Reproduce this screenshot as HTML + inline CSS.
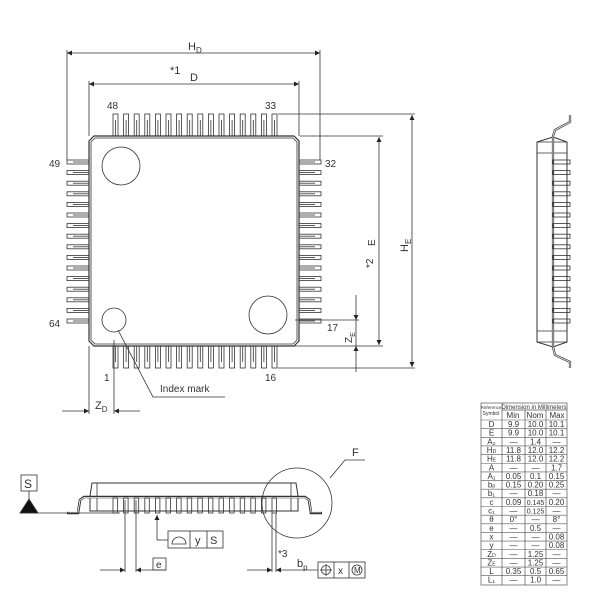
<!DOCTYPE html>
<html><head><meta charset="utf-8"><style>
html,body{margin:0;padding:0;background:#fff;width:600px;height:600px;overflow:hidden}
svg{display:block}
text{font-family:"Liberation Sans",sans-serif;fill:#333}
</style></head><body>
<svg id="s" width="600" height="600" viewBox="0 0 600 600" xmlns="http://www.w3.org/2000/svg">
<defs>
<marker id="a" viewBox="0 0 10 10" refX="10" refY="5" markerWidth="8" markerHeight="5" orient="auto-start-reverse" markerUnits="userSpaceOnUse"><path d="M0,0 L10,5 L0,10 z" fill="#222"/></marker>
</defs>
<g id="g" stroke="#333" stroke-width="0.8" fill="none">
<path d="M94,136 L294,136 L299,141 L299,341 L294,346 L94,346 L89,341 L89,141 Z" stroke-width="1.2"/>
<path d="M95,138 L293,138 L297,142 L297,340 L293,344 L95,344 L91,340 L91,142 Z"/>
<circle cx="121" cy="166" r="19"/>
<circle cx="114" cy="320" r="12"/>
<circle cx="268" cy="315" r="19"/>
<line x1="67" y1="53" x2="320" y2="53" marker-start="url(#a)" marker-end="url(#a)"/>
<line x1="67" y1="50" x2="67" y2="160"/><line x1="320" y1="50" x2="320" y2="160"/>
<line x1="89" y1="84" x2="299" y2="84" marker-start="url(#a)" marker-end="url(#a)"/>
<line x1="89" y1="81" x2="89" y2="136"/><line x1="299" y1="81" x2="299" y2="136"/>
<line x1="379" y1="137" x2="379" y2="345" marker-start="url(#a)" marker-end="url(#a)"/>
<line x1="300" y1="136" x2="383" y2="136"/><line x1="250" y1="346" x2="383" y2="346"/>
<line x1="412" y1="115" x2="412" y2="367" marker-start="url(#a)" marker-end="url(#a)"/>
<line x1="278" y1="114" x2="415" y2="114"/><line x1="278" y1="368" x2="415" y2="368"/>
<line x1="356" y1="295" x2="356" y2="320" marker-end="url(#a)"/>
<line x1="356" y1="372" x2="356" y2="346" marker-end="url(#a)"/>
<line x1="356" y1="320" x2="356" y2="346"/>
<line x1="295" y1="320" x2="359" y2="320"/>
<polyline points="118,330 153,397 225,397"/>
<line x1="62" y1="411" x2="89" y2="411" marker-end="url(#a)"/>
<line x1="140" y1="411" x2="114" y2="411" marker-end="url(#a)"/>
<line x1="89" y1="346" x2="89" y2="414"/><line x1="114" y1="340" x2="114" y2="414"/>

<path d="M537,142 L553,137 L567,142 L567,342 L553,347 L537,342 Z" stroke-width="1"/>
<line x1="537" y1="142" x2="567" y2="142"/><line x1="537" y1="153" x2="567" y2="153"/>
<line x1="537" y1="342" x2="567" y2="342"/><line x1="537" y1="331" x2="567" y2="331"/>
<path d="M570,115 L570,122 L555,130 L553,136 L553,347 L555,355 L570,362 L570,368" stroke-width="2.2"/>
<path d="M570,115 L570,122 L555,130 L553,136 L553,347 L555,355 L570,362 L570,368" stroke="#fff" stroke-width="0.8"/>

<path d="M92,483 L296,483 L298,496 L298,511 L90,511 L90,496 Z" stroke-width="1"/>
<line x1="97" y1="483" x2="97" y2="511"/><line x1="291" y1="483" x2="291" y2="511"/>
<path d="M67,513 L78,513 L80,500 L84,497 L305,497 L309,500 L311,513 L322,513" stroke-width="2.6"/>
<path d="M68,512 L78,512 L80,500 L84,497.5 L305,497.5 L309,500 L311,512 L321,512" stroke="#fff" stroke-width="0.8"/>
<line x1="20" y1="513" x2="120" y2="513"/>
<path d="M20,513 L29,499 L38,513 Z" fill="#111"/>
<line x1="29" y1="491" x2="29" y2="499"/>
<rect x="21" y="475" width="16" height="16"/>
<circle cx="297" cy="503" r="35"/>
<polyline points="330,478 345,460 365,460"/>
<line x1="157" y1="540" x2="157" y2="515" marker-end="url(#a)"/>
<line x1="157" y1="540" x2="168" y2="540"/>
<rect x="168" y="531" width="55" height="17"/>
<line x1="190" y1="531" x2="190" y2="548"/><line x1="207" y1="531" x2="207" y2="548"/>
<path d="M172,544 A7,7 0 0 1 186,544 Z"/>
<line x1="125" y1="500" x2="125" y2="572"/><line x1="136" y1="500" x2="136" y2="572"/>
<line x1="100" y1="570" x2="125" y2="570" marker-end="url(#a)"/>
<line x1="166" y1="570" x2="136" y2="570" marker-end="url(#a)"/>
<rect x="153" y="558" width="13" height="12"/>
<line x1="272" y1="513" x2="272" y2="572"/><line x1="276" y1="513" x2="276" y2="572"/>
<line x1="247" y1="570" x2="272" y2="570" marker-end="url(#a)"/>
<line x1="318" y1="570" x2="276" y2="570" marker-end="url(#a)"/>
<rect x="318" y="562" width="47" height="16"/>
<line x1="334" y1="562" x2="334" y2="578"/><line x1="349" y1="562" x2="349" y2="578"/>
<circle cx="326" cy="570" r="4.5"/><line x1="320" y1="570" x2="332" y2="570"/><line x1="326" y1="564" x2="326" y2="576"/>
<circle cx="357" cy="570" r="5"/>
</g>
<g font-size="11">
<text x="188" y="50">H<tspan font-size="8" dy="3">D</tspan></text>
<text x="170" y="74">*1</text>
<text x="190" y="84" dy="-3">D</text>
<text x="107" y="109" font-size="10">48</text>
<text x="265" y="109" font-size="10">33</text>
<text x="49" y="167" font-size="10">49</text>
<text x="325" y="167" font-size="10">32</text>
<text x="49" y="327" font-size="10">64</text>
<text x="327" y="331" font-size="10">17</text>
<text x="104" y="381" font-size="10">1</text>
<text x="265" y="381" font-size="10">16</text>
<text x="160" y="392" font-size="10">Index mark</text>
<text x="95" y="409" font-size="11">Z<tspan font-size="8" dy="3">D</tspan></text>
<text transform="translate(375,246) rotate(-90)" font-size="10">E</text>
<text transform="translate(373,268) rotate(-90)" font-size="10">*2</text>
<text transform="translate(408,252) rotate(-90)" font-size="11">H<tspan font-size="8" dy="3">E</tspan></text>
<text transform="translate(352,343) rotate(-90)" font-size="10">Z<tspan font-size="7" dy="3">E</tspan></text>
<text x="24" y="488" font-size="12">S</text>
<text x="352" y="456" font-size="11">F</text>
<text x="195" y="544" font-size="11">y</text>
<text x="210" y="544" font-size="11">S</text>
<text x="156" y="568" font-size="10">e</text>
<text x="278" y="557" font-size="10">*3</text>
<text x="297" y="567" font-size="11">b<tspan font-size="8" dy="3">p</tspan></text>
<text x="338" y="574" font-size="10">x</text>
<text x="354" y="573" font-size="8">M</text>
</g>
<g id="tbl" font-size="8" text-anchor="middle"></g>
</svg>
<script>
var g=document.getElementById('g'),NS='http://www.w3.org/2000/svg';
function el(t,a,p){var e=document.createElementNS(NS,t);for(var k in a)e.setAttribute(k,a[k]);(p||g).appendChild(e);return e;}
var p=10.6;
for(var i=0;i<16;i++){
 var x=113+i*p;
 el('rect',{x:x,y:114,width:5,height:22});el('line',{x1:x+2.5,y1:120,x2:x+2.5,y2:136});
 el('rect',{x:x,y:346,width:5,height:22});el('line',{x1:x+2.5,y1:346,x2:x+2.5,y2:362});
 var y=160+i*p;
 el('rect',{x:67,y:y,width:22,height:4});el('line',{x1:73,y1:y+2,x2:89,y2:y+2});
 el('rect',{x:299,y:y,width:22,height:4});el('line',{x1:299,y1:y+2,x2:315,y2:y+2});
 el('rect',{x:553,y:y,width:17,height:4});
 el('rect',{x:113+i*p,y:498,width:4.5,height:15});
}
var T=document.getElementById('tbl');
var cols=[481,502,525,546,567];
el('rect',{x:481,y:403,width:86,height:182,fill:'none',stroke:'#555','stroke-width':0.7},T);
el('line',{x1:502,y1:410,x2:567,y2:410,stroke:'#555','stroke-width':0.7},T);
for(var c=1;c<4;c++)el('line',{x1:cols[c],y1:c==1?403:410,x2:cols[c],y2:585,stroke:'#555','stroke-width':0.7},T);
function tx(x,y,s,f){var t=el('text',{x:x,y:y,'font-size':f||8},T);t.textContent=s;return t;}
tx(534,409,'Dimension in Millimeters',6);tx(491,409,'Reference',4.5);tx(491,415,'Symbol',5);
tx(513,418,'Min');tx(535,418,'Nom');tx(557,418,'Max');
var rows=[['D','9.9','10.0','10.1'],['E','9.9','10.0','10.1'],['A₂','—','1.4','—'],['H_D','11.8','12.0','12.2'],['H_E','11.8','12.0','12.2'],['A','—','—','1.7'],['A₁','0.05','0.1','0.15'],['b_p','0.15','0.20','0.25'],['b₁','—','0.18','—'],['c','0.09','0.145','0.20'],['c₁','—','0.125','—'],['θ','0°','—','8°'],['e','—','0.5','—'],['x','—','—','0.08'],['y','—','—','0.08'],['Z_D','—','1.25','—'],['Z_E','—','1.25','—'],['L','0.35','0.5','0.65'],['L₁','—','1.0','—']];
var y0=420,h=8.65;
for(var r=0;r<rows.length;r++){
 var yy=y0+r*h;
 el('line',{x1:481,y1:yy,x2:567,y2:yy,stroke:'#555','stroke-width':0.6},T);
 for(var c=0;c<4;c++){var s=rows[r][c];
  if(s.indexOf('_')>0){var t=tx((cols[c]+cols[c+1])/2,yy+7,s[0]);var sp=document.createElementNS(NS,'tspan');sp.setAttribute('font-size',5);sp.textContent=s.slice(2);t.appendChild(sp);}
  else tx((cols[c]+cols[c+1])/2,yy+7,s,(c>0&&s.length>4)?7:8);}
}
</script>
</body></html>
